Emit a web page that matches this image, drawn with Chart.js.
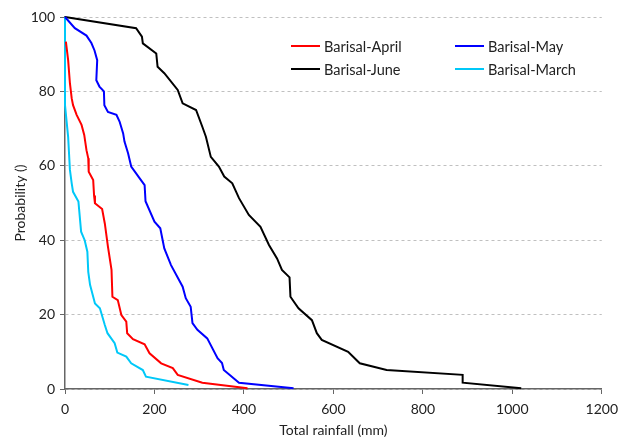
<!DOCTYPE html>
<html>
<head>
<meta charset="utf-8">
<script src="https://cdn.jsdelivr.net/npm/chart.js@4"></script>
<style>
  html, body { margin: 0; padding: 0; background: #fff; }
  #wrap { width: 625px; height: 439px; }
</style>
</head>
<body>
<div id="wrap"><canvas id="myChart" width="625" height="439"></canvas></div>
<script>
// rainfall (mm) vs exceedance probability
var aprilRain = [2, 7, 11, 15, 18, 26, 37, 43, 48, 52, 53, 63, 65, 67, 83, 89, 96, 104, 106, 118, 126, 137, 139, 152, 178, 189, 215, 241, 252, 307, 408];
var aprilProb = [93.4, 88.4, 82.2, 78.1, 76.3, 73.7, 71, 68.3, 64.2, 62, 58.4, 56.2, 52, 49.9, 48.4, 44.5, 38.3, 32, 24.8, 23.9, 19.9, 18.1, 15, 13.4, 12, 9.6, 6.9, 5.6, 3.8, 1.7, 0.2];

var mayRain = [0, 22, 48, 59, 66, 72, 70, 77, 87, 88, 96, 115, 122, 130, 133, 141, 148, 167, 178, 180, 200, 213, 222, 237, 263, 270, 281, 285, 296, 318, 341, 351, 355, 389, 511];
var mayProb = [100, 97, 95, 93, 91, 88.4, 83, 81.3, 80, 76.3, 74.5, 73.7, 71.9, 68.7, 66.5, 63.4, 59.8, 56.6, 54.8, 50.5, 45, 43.2, 37.8, 33.3, 27.5, 24.4, 22.1, 17.7, 15.9, 13.6, 8.3, 7, 5.1, 1.7, 0.2];

var juneRain = [0, 159, 172, 174, 204, 207, 222, 252, 263, 293, 307, 315, 326, 344, 356, 374, 389, 411, 437, 456, 474, 485, 502, 504, 522, 552, 563, 574, 633, 659, 719, 889, 889, 1020];
var juneProb = [100, 97, 94.7, 92.9, 90.2, 86.6, 84.9, 80.4, 76.8, 75, 70.5, 67.8, 62.4, 59.8, 57.1, 55.3, 51.3, 46.8, 43.6, 38.7, 35.1, 32, 30, 24.8, 21.7, 18.5, 15, 13.2, 10, 6.9, 5.1, 3.8, 1.7, 0.2];

var marchRain = [0, 0, 7, 11, 15, 18, 30, 36, 44, 50, 52, 56, 67, 78, 89, 95, 111, 117, 137, 148, 174, 181, 276];
var marchProb = [100, 76.3, 67.8, 58.9, 55.3, 53, 50.4, 42.3, 40, 36.9, 31.5, 28, 23, 21.7, 17.2, 15, 12.3, 9.8, 8.7, 6.9, 5.1, 3.3, 1.1];

var labels = ["Barisal-April", "Barisal-May", "Barisal-June", "Barisal-March"];
var colors = ["#ff0000", "#0000ff", "#000000", "#00c8f8"];

function toPoints(xs, ys) {
    var pts = [];
    for (var i = 0; i < xs.length; i++) {
        pts.push({ x: xs[i], y: ys[i] });
    }
    return pts;
}

var series = [
    toPoints(aprilRain, aprilProb),
    toPoints(mayRain, mayProb),
    toPoints(juneRain, juneProb),
    toPoints(marchRain, marchProb)
];

var datasets = [];
for (var i = 0; i < series.length; i++) {
    datasets.push({
        label: labels[i],
        data: series[i],
        borderColor: colors[i],
        backgroundColor: colors[i],
        borderWidth: 2,
        pointRadius: 0,
        fill: false,
        tension: 0,
        clip: 4
    });
}

var FONT = "Lato, 'Liberation Sans', sans-serif";

// legend drawn inside the plot, two columns
var insideLegend = {
    id: 'insideLegend',
    afterDatasetsDraw: function (chart) {
        var ctx = chart.ctx;
        var cols = [291, 455];
        var rows = [46, 69];
        ctx.save();
        ctx.font = "14.5px " + FONT;
        ctx.textBaseline = "middle";
        ctx.fillStyle = "#222";
        for (var i = 0; i < labels.length; i++) {
            var x = cols[i % 2], y = rows[Math.floor(i / 2)];
            ctx.strokeStyle = colors[i];
            ctx.lineWidth = 2;
            ctx.beginPath();
            ctx.moveTo(x, y);
            ctx.lineTo(x + 29, y);
            ctx.stroke();
            ctx.fillText(labels[i], x + 33, y + 1);
        }
        ctx.restore();
    }
};

var ctx = document.getElementById('myChart').getContext('2d');
var chart = new Chart(ctx, {
    type: 'line',
    data: { datasets: datasets },
    plugins: [insideLegend],
    options: {
        responsive: false,
        animation: false,
        layout: { padding: { left: 12, right: 12, top: 17, bottom: 0 } },
        plugins: {
            legend: { display: false },
            tooltip: { enabled: false }
        },
        scales: {
            x: {
                type: 'linear',
                min: 0,
                max: 1200,
                ticks: {
                    stepSize: 200, color: "#222", font: { family: FONT, size: 14 }, padding: 7, maxRotation: 0,
                    callback: function (v) { return String(v); }
                },
                grid: { drawOnChartArea: false, drawTicks: true, tickLength: 5, tickColor: "#666" },
                border: { color: "#666", width: 1.5 },
                title: { display: true, text: "Total rainfall (mm)", color: "#222", font: { family: FONT, size: 14 }, padding: { top: 4, bottom: 0 } },
                afterFit: function (s) { s.height = 50; }
            },
            y: {
                min: 0,
                max: 100,
                ticks: { stepSize: 20, color: "#222", font: { family: FONT, size: 14 }, padding: 5 },
                grid: { color: "#c0c0c0", lineWidth: 1, tickLength: 5, tickColor: "#666", tickBorderDash: [] },
                border: { color: "#666", width: 1.5, dash: [3, 3] },
                title: { display: true, text: "Probability ()", color: "#222", font: { family: FONT, size: 14 }, padding: { top: 0, bottom: 4 } },
                afterFit: function (s) { s.width = 53; }
            }
        }
    }
});
</script>
</body>
</html>
